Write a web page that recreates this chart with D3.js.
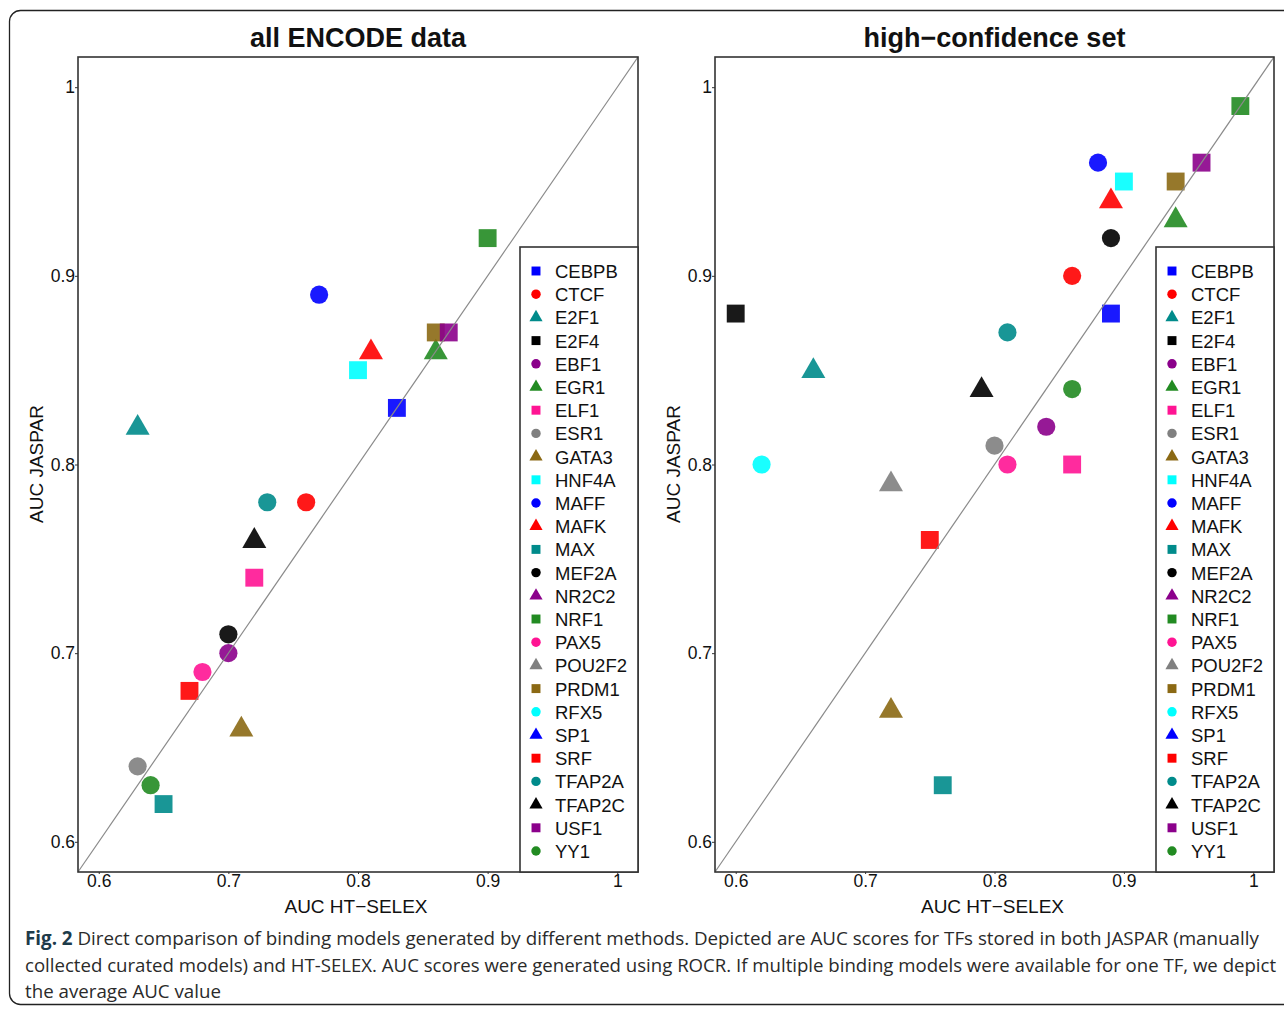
<!DOCTYPE html>
<html>
<head>
<meta charset="utf-8">
<script src="https://cdn.jsdelivr.net/npm/d3@7"></script>
<style>
  html, body { margin: 0; padding: 0; background: #fff; }
  svg { display: block; }
</style>
</head>
<body>
<svg id="chart" width="1284" height="1010"></svg>
<script>
// ---------------- DATA ----------------
const tfNames = ["CEBPB","CTCF","E2F1","E2F4","EBF1","EGR1","ELF1","ESR1","GATA3","HNF4A",
  "MAFF","MAFK","MAX","MEF2A","NR2C2","NRF1","PAX5","POU2F2","PRDM1","RFX5",
  "SP1","SRF","TFAP2A","TFAP2C","USF1","YY1"];

// all ENCODE data (null = not present)
const allX = [0.83,0.76,0.63,null,0.70,0.86,0.72,0.63,0.71,0.80,
  0.77,0.81,0.65,0.70,null,0.90,0.68,null,0.86,null,
  null,0.67,0.73,0.72,0.87,0.64];
const allY = [0.83,0.78,0.82,null,0.70,0.86,0.74,0.64,0.66,0.85,
  0.89,0.86,0.62,0.71,null,0.92,0.69,null,0.87,null,
  null,0.68,0.78,0.76,0.87,0.63];

// high-confidence set
const hcX = [0.89,0.86,0.66,0.60,0.84,0.94,0.86,0.80,0.72,0.90,
  0.88,0.89,0.76,0.89,null,0.99,0.81,0.72,0.94,0.62,
  null,0.75,0.81,0.79,0.96,0.86];
const hcY = [0.88,0.90,0.85,0.88,0.82,0.93,0.80,0.81,0.67,0.95,
  0.96,0.94,0.63,0.92,null,0.99,0.80,0.79,0.95,0.80,
  null,0.76,0.87,0.84,0.96,0.84];

const tickValues = [0.6, 0.7, 0.8, 0.9, 1];
const tickLabels = ["0.6", "0.7", "0.8", "0.9", "1"];
const panelTitles = ["all ENCODE data", "high\u2212confidence set"];
const xLabel = "AUC HT\u2212SELEX";
const yLabel = "AUC JASPAR";
const captionBold = "Fig. 2";
const captionLines = [
  " Direct comparison of binding models generated by different methods. Depicted are AUC scores for TFs stored in both JASPAR (manually",
  "collected curated models) and HT-SELEX. AUC scores were generated using ROCR. If multiple binding models were available for one TF, we depict",
  "the average AUC value"
];

// ---------------- STYLE ----------------
const palette = ["#0000FF","#FF0000","#008B8B","#000000","#8B008B","#228B22","#FF1493","#808080","#8B6914","#00FFFF"];
const shapes = [d3.symbolSquare, d3.symbolCircle, d3.symbolTriangle];
const colorOf = i => palette[i % palette.length];
const shapeOf = i => shapes[i % shapes.length];
const bigSize = [320, 260, 250];
const smallSize = [80, 70, 75];

const svg = d3.select("#chart");
const font = "'Liberation Sans', Arial, Helvetica, sans-serif";

// outer rounded frame
svg.append("rect").attr("x", 9.5).attr("y", 10.5).attr("width", 1300).attr("height", 994)
  .attr("rx", 11).attr("ry", 11).attr("fill", "none").attr("stroke", "#222").attr("stroke-width", 1.3);

const domain = [0.584, 1.016];
const panels = [
  {x0: 78, x1: 638, xs: allX, ys: allY, title: panelTitles[0]},
  {x0: 715, x1: 1274, xs: hcX, ys: hcY, title: panelTitles[1]}
];
const y0 = 872, y1 = 57;

panels.forEach(p => {
  const x = d3.scaleLinear().domain(domain).range([p.x0, p.x1]);
  const y = d3.scaleLinear().domain(domain).range([y0, y1]);
  const g = svg.append("g");

  // points
  const pts = tfNames.map((n, i) => ({n, i, x: p.xs[i], y: p.ys[i]})).filter(d => d.x != null);
  g.selectAll("path.pt").data(pts).enter().append("path")
    .attr("class", "pt")
    .attr("d", d => d3.symbol().type(shapeOf(d.i)).size(bigSize[d.i % 3])())
    .attr("transform", d => `translate(${x(d.x)},${y(d.y) + (d.i % 3 === 2 ? 1 : 0)})`)
    .attr("fill", d => colorOf(d.i))
    .attr("fill-opacity", 0.9);

  // diagonal
  g.append("line")
    .attr("x1", x(domain[0])).attr("y1", y(domain[0]))
    .attr("x2", x(domain[1])).attr("y2", y(domain[1]))
    .attr("stroke", "#8a8a8a").attr("stroke-width", 1.2);

  // axes
  const xAxis = d3.axisBottom(x).tickValues(tickValues).tickFormat((d, i) => tickLabels[i]).tickSize(2).tickSizeOuter(0);
  const gx = g.append("g").attr("transform", `translate(0,${y0})`).call(xAxis);
  gx.select(".domain").remove();
  gx.selectAll("text").attr("font-family", font).attr("font-size", 17.5).attr("fill", "#111").attr("dy", "0.71em").attr("y", 3);
  gx.selectAll("line").attr("stroke", "#333");

  const yAxis = d3.axisLeft(y).tickValues(tickValues).tickFormat((d, i) => tickLabels[i]).tickSize(3).tickSizeOuter(0);
  const gy = g.append("g").attr("transform", `translate(${p.x0},0)`).call(yAxis);
  gy.select(".domain").remove();
  gy.selectAll("text").attr("font-family", font).attr("font-size", 17.5).attr("fill", "#111").attr("x", -3);
  gy.selectAll("line").attr("stroke", "#333");

  // box
  g.append("rect").attr("x", p.x0).attr("y", y1).attr("width", p.x1 - p.x0).attr("height", y0 - y1)
    .attr("fill", "none").attr("stroke", "#333").attr("stroke-width", 1.6);

  // title
  g.append("text").attr("x", (p.x0 + p.x1) / 2).attr("y", 47).attr("text-anchor", "middle")
    .attr("font-family", font).attr("font-weight", "bold").attr("font-size", 27).attr("fill", "#111")
    .text(p.title);

  // axis labels
  g.append("text").attr("x", (p.x0 + p.x1) / 2 - 2).attr("y", 913).attr("text-anchor", "middle")
    .attr("font-family", font).attr("font-size", 19).attr("fill", "#111").text(xLabel);
  g.append("text").attr("transform", `translate(${p.x0 - 35},464) rotate(-90)`).attr("text-anchor", "middle")
    .attr("font-family", font).attr("font-size", 19).attr("fill", "#111").text(yLabel);

  // legend
  const lx = p.x1 - 118;
  g.append("rect").attr("x", lx).attr("y", 247).attr("width", p.x1 - lx).attr("height", y0 - 247)
    .attr("fill", "#fff").attr("stroke", "#333").attr("stroke-width", 1.6);
  const ly = d3.scaleLinear().domain([0, tfNames.length - 1]).range([271, 851]);
  const lg = g.selectAll("g.leg").data(tfNames).enter().append("g").attr("class", "leg")
    .attr("transform", (d, i) => `translate(${lx + 16},${ly(i)})`);
  lg.append("path")
    .attr("d", (d, i) => d3.symbol().type(shapeOf(i)).size(smallSize[i % 3])())
    .attr("fill", (d, i) => colorOf(i));
  lg.append("text").attr("x", 19).attr("y", 7)
    .attr("font-family", font).attr("font-size", 18.5).attr("fill", "#111").text(d => d);
});

// caption (horizontally condensed to match the narrow journal font)
const capFont = "'Open Sans', Arial, sans-serif";
const capLens = [1235, 1252, 196];
const capY = [945, 972, 998];
captionLines.forEach((line, i) => {
  const t = svg.append("text").attr("x", 0).attr("y", 0)
    .attr("font-family", capFont).attr("font-size", 19).attr("fill", "#2a2a2a");
  if (i === 0) {
    t.append("tspan").attr("font-weight", "bold").attr("fill", "#1d3b4a").text(captionBold);
  }
  t.append("tspan").text(line);
  const w = t.node().getComputedTextLength();
  const k = capLens[i] / w;
  t.attr("transform", `translate(25,${capY[i]}) scale(${k},1)`);
});
</script>
</body>
</html>
